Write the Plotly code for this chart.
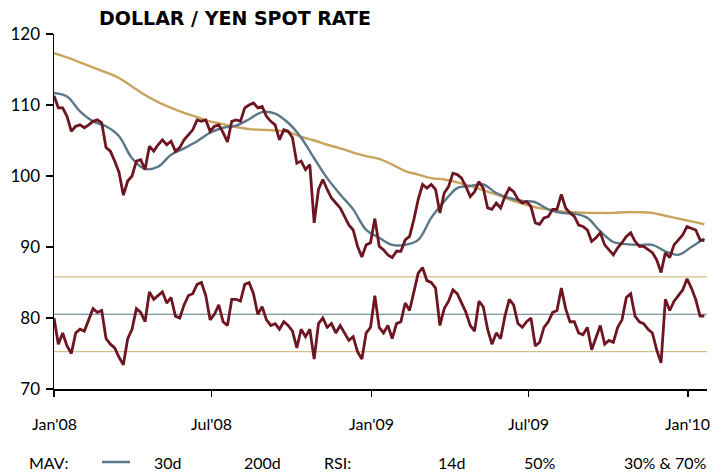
import pandas as pd
import plotly.graph_objects as go

# ---------------- data ----------------
SPOT_START = "2008-01-01"
SPOT_STEP = "5D"
spot = [
    111.3, 109.6, 109.6, 108.4, 106.3, 107.0, 107.2, 106.8, 107.2, 107.7,
    107.9, 107.5, 104.0, 103.5, 102.1, 100.5, 97.3, 99.3, 100.0, 102.1,
    102.3, 100.9, 104.2, 103.5, 104.4, 105.1, 104.4, 104.9, 103.5, 104.0,
    105.1, 105.8, 106.5, 107.9, 107.7, 107.9, 106.3, 107.0, 107.2, 106.1,
    104.8, 107.7, 107.9, 107.7, 109.6, 110.0, 110.3, 109.6, 109.8, 108.4,
    107.7, 107.2, 105.1, 106.5, 106.3, 105.4, 101.8, 102.1, 100.9, 101.6,
    93.4, 98.1, 99.5, 98.1, 96.9, 96.2, 95.5, 94.3, 93.1, 92.4,
    90.1, 88.6, 90.3, 90.6, 94.0, 90.1, 89.6, 88.9, 88.5, 89.4,
    89.4, 91.0, 91.5, 93.9, 96.7, 98.8, 98.3, 98.8, 98.1, 94.8,
    97.6, 98.5, 100.4, 100.2, 99.7, 98.5, 97.1, 97.8, 99.2, 98.3,
    95.5, 95.3, 96.2, 95.5, 97.1, 98.3, 97.8, 96.7, 96.2, 96.4,
    95.7, 93.4, 93.2, 94.1, 94.3, 95.3, 95.3, 97.4, 95.5, 94.8,
    94.3, 93.1, 92.9, 92.4, 90.8, 91.3, 92.0, 90.3, 89.6, 88.9,
    89.9, 90.6, 91.5, 92.0, 90.8, 90.1, 90.1, 89.6, 89.2, 88.2,
    86.4, 89.2, 88.5, 90.3, 91.0, 91.7, 92.9, 92.7, 92.4, 91.0,
    90.9,
]
rsi_14d = [
    48, 34, 40, 33, 29, 40, 42, 41, 47, 53,
    51, 52, 37, 34, 32, 27, 23, 37, 42, 53,
    51, 46, 62, 58, 60, 62, 56, 59, 49, 48,
    55, 60, 61, 66, 67, 60, 47, 50, 55, 46,
    44, 58, 58, 57, 66, 67, 61, 50, 54, 47,
    44, 45, 42, 46, 44, 41, 32, 42, 38, 42,
    26, 45, 48, 43, 45, 40, 44, 40, 36, 38,
    30, 26, 40, 43, 60, 43, 40, 44, 37, 45,
    46, 56, 52, 62, 72, 75, 68, 67, 64, 44,
    53, 57, 63, 61, 56, 51, 44, 41, 57, 54,
    42, 34, 40, 37, 49, 58, 55, 45, 43, 46,
    48, 33, 35, 43, 46, 51, 52, 64, 53, 46,
    46, 40, 39, 43, 31, 38, 44, 34, 36, 35,
    43, 47, 59, 61, 49, 46, 45, 42, 40, 31,
    24, 58, 52, 57, 60, 63, 69, 64, 58, 49,
    49,
]

MAV_STEP = "15D"
mav_30d = [
    111.7, 111.2, 109.1, 107.7, 107.0, 105.6, 102.5, 101.0, 101.3, 103.0,
    103.9, 104.9, 106.1, 106.8, 107.1, 108.0, 109.0, 108.8, 107.5, 105.4,
    102.5, 99.7, 97.4, 95.3, 92.4, 91.3, 90.3, 90.3, 91.0, 94.1,
    96.4, 98.3, 98.6, 98.8, 97.6, 96.9, 96.5, 96.3, 95.3, 94.8,
    94.7, 94.1, 92.2, 90.7, 90.4, 90.3, 90.3, 89.4, 88.9, 90.0,
    91.2,
]
mav_200d = [
    117.3, 116.7, 116.0, 115.3, 114.6, 113.8, 112.6, 111.4, 110.4, 109.6,
    108.9, 108.3, 107.7, 107.3, 106.9, 106.6, 106.5, 106.4, 106.2, 105.5,
    105.0, 104.4, 103.9, 103.3, 102.8, 102.4, 101.6, 100.7, 100.2, 99.7,
    99.5, 99.1, 98.6, 98.0, 97.4, 96.7, 96.1, 95.6, 95.3, 95.0,
    94.9, 94.8, 94.8, 94.8, 94.9, 94.9, 94.8, 94.4, 94.0, 93.6,
    93.2,
]

RSI_MID = [50, 50]
RSI_LOW = [30, 30]
RSI_HIGH = [70, 70]
LEVEL_DATES = ["2008-01-01", "2010-01-23"]

Y_TICKS = [70, 80, 90, 100, 110, 120]
X_TICKS = ["2008-01-01", "2008-07-01", "2009-01-01", "2009-07-01", "2010-01-01"]
X_TICK_LABELS = ["Jan'08", "Jul'08", "Jan'09", "Jul'09", "Jan'10"]
TITLE = "DOLLAR / YEN SPOT RATE"

# ---------------- build ----------------
spot_dates = pd.date_range(SPOT_START, periods=len(spot), freq=SPOT_STEP)
mav_dates = pd.date_range(SPOT_START, periods=len(mav_30d), freq=MAV_STEP)

RED = "#6d1622"
BLUE = "#5a7888"
GOLD = "#c9a45e"
GOLD_LIGHT = "#d6bd8a"
FONT = "Lato"

fig = go.Figure()

fig.add_trace(go.Scatter(x=LEVEL_DATES, y=RSI_HIGH, yaxis="y2", mode="lines",
                         line=dict(color=GOLD_LIGHT, width=1.3), hoverinfo="skip"))
fig.add_trace(go.Scatter(x=LEVEL_DATES, y=RSI_LOW, yaxis="y2", mode="lines",
                         line=dict(color=GOLD_LIGHT, width=1.3), hoverinfo="skip"))
fig.add_trace(go.Scatter(x=LEVEL_DATES, y=RSI_MID, yaxis="y2", mode="lines",
                         line=dict(color=BLUE, width=1.2), hoverinfo="skip"))

fig.add_trace(go.Scatter(x=mav_dates, y=mav_200d, mode="lines", name="200d",
                         line=dict(color=GOLD, width=2.4, shape="spline")))
fig.add_trace(go.Scatter(x=mav_dates, y=mav_30d, mode="lines", name="30d",
                         line=dict(color=BLUE, width=2.4, shape="spline")))
fig.add_trace(go.Scatter(x=spot_dates, y=spot, mode="lines", name="Spot",
                         line=dict(color=RED, width=2.8)))
fig.add_trace(go.Scatter(x=spot_dates, y=rsi_14d, yaxis="y2", mode="lines", name="14d",
                         line=dict(color=RED, width=2.8)))

W, H = 725, 476
L, R, T, B = 54, 18, 34, 476 - 389
plot_w = W - L - R
plot_h = H - T - B


def px_x(px):
    return (px - L) / plot_w


def px_y(py):
    return (H - B - py) / plot_h


fig.update_layout(
    width=W, height=H,
    margin=dict(l=L, r=R, t=T, b=B, autoexpand=False),
    paper_bgcolor="white", plot_bgcolor="white",
    showlegend=False,
    font=dict(family=FONT, size=16, color="black"),
    xaxis=dict(range=["2008-01-01", "2010-01-23"], tickvals=X_TICKS,
               showticklabels=False, showgrid=False, zeroline=False,
               showline=True, linecolor="black", linewidth=1.5,
               ticks="outside", ticklen=6, tickcolor="black", tickwidth=1.2,
               automargin=False),
    yaxis=dict(range=[70, 120], tickvals=Y_TICKS, showgrid=False, zeroline=False,
               showline=True, linecolor="black", linewidth=1.5,
               ticks="outside", ticklen=7, tickcolor="black", tickwidth=1.2,
               ticklabelstandoff=2, automargin=False,
               tickfont=dict(size=17, family=FONT)),
    yaxis2=dict(range=[10, 200], overlaying="y", visible=False,
                showgrid=False, zeroline=False, automargin=False),
)

# x tick labels, placed on the date axis
for tv, tt in zip(X_TICKS, X_TICK_LABELS):
    fig.add_annotation(text=tt, x=tv, xref="x", y=px_y(423), yref="paper",
                       xanchor="center", yanchor="middle", showarrow=False,
                       font=dict(size=16, family=FONT, color="black"))

# title
fig.add_annotation(text="<b>" + TITLE + "</b>", x=px_x(97), y=px_y(18),
                   xref="paper", yref="paper", xanchor="left", yanchor="middle",
                   showarrow=False,
                   font=dict(family="DejaVu Sans", size=19, color="black"))

leg_y = px_y(462)
legend_items = [("MAV:", 27), ("30d", 152), ("200d", 242), ("RSI:", 322),
                ("14d", 436), ("50%", 522), ("30% & 70%", 622)]
for txt, xp in legend_items:
    fig.add_annotation(text=txt, x=px_x(xp), y=leg_y, xref="paper", yref="paper",
                       xanchor="left", yanchor="middle", showarrow=False,
                       font=dict(size=16, family=FONT, color="black"))
fig.add_shape(type="line", xref="paper", yref="paper",
              x0=px_x(102), x1=px_x(130), y0=leg_y, y1=leg_y,
              line=dict(color=BLUE, width=2.5))

fig.write_html("out.html",
               config={"displayModeBar": False, "staticPlot": True},
               post_script="document.body.style.margin='0';"
                           "document.body.style.overflow='hidden';")
